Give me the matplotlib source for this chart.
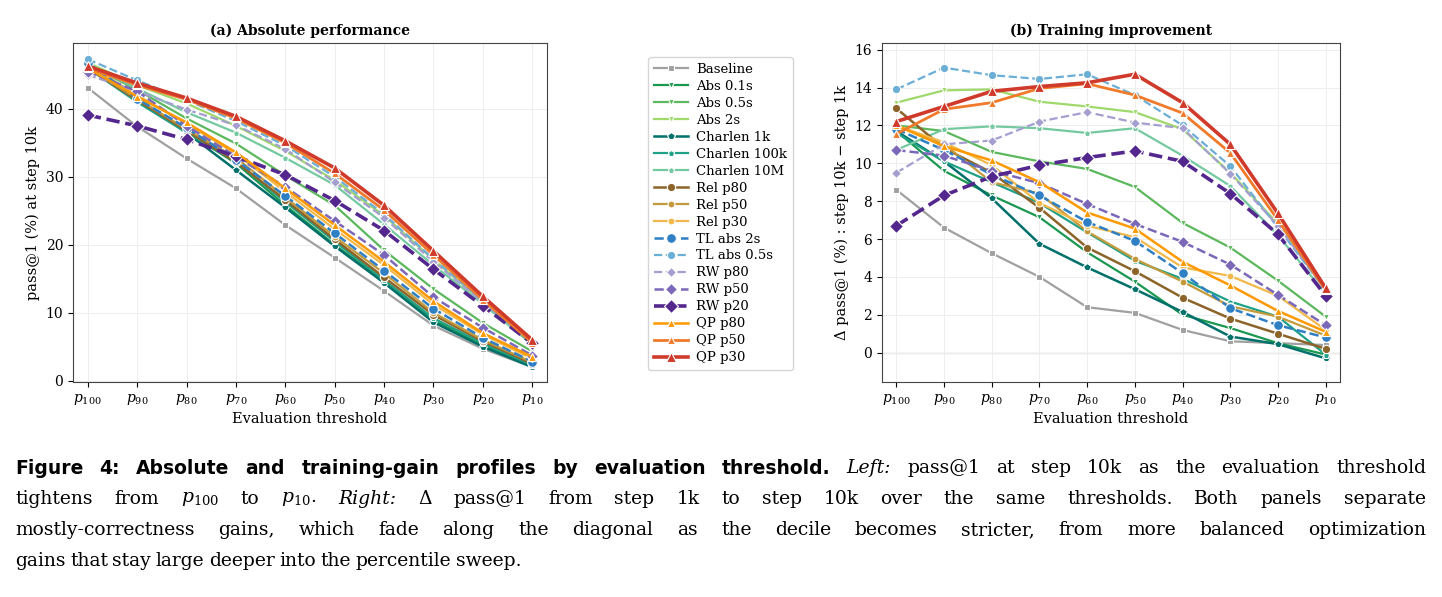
import numpy as np
import matplotlib
matplotlib.use("Agg")
import matplotlib.pyplot as plt

plt.rcParams['font.family'] = 'DejaVu Serif'
plt.rcParams['mathtext.fontset'] = 'dejavuserif'

thresholds = [r'$p_{100}$', r'$p_{90}$', r'$p_{80}$', r'$p_{70}$', r'$p_{60}$',
              r'$p_{50}$', r'$p_{40}$', r'$p_{30}$', r'$p_{20}$', r'$p_{10}$']

names = ['Baseline', 'Abs 0.1s', 'Abs 0.5s', 'Abs 2s', 'Charlen 1k', 'Charlen 100k',
         'Charlen 10M', 'Rel p80', 'Rel p50', 'Rel p30', 'TL abs 2s', 'TL abs 0.5s',
         'RW p80', 'RW p50', 'RW p20', 'QP p80', 'QP p50', 'QP p30']

# pass@1 at step 10k
absolute = {
    'Baseline':     [43.1, 37.4, 32.7, 28.3, 22.9, 18.1, 13.2, 8.1, 4.7, 2.0],
    'Abs 0.1s':     [46.0, 41.3, 36.6, 32.0, 25.8, 20.0, 14.6, 8.9, 5.2, 2.1],
    'Abs 0.5s':     [46.5, 42.8, 38.6, 34.9, 30.2, 25.8, 19.2, 13.5, 8.5, 4.3],
    'Abs 2s':       [46.8, 43.5, 40.8, 37.5, 33.8, 29.5, 24.3, 17.8, 11.6, 5.5],
    'Charlen 1k':   [46.0, 41.5, 36.5, 31.0, 25.5, 19.8, 14.4, 8.6, 5.0, 2.0],
    'Charlen 100k': [46.0, 41.0, 36.5, 32.2, 26.3, 20.5, 14.8, 9.2, 5.5, 2.3],
    'Charlen 10M':  [46.5, 43.0, 39.5, 36.5, 32.8, 28.8, 23.0, 17.0, 11.3, 5.3],
    'Rel p80':      [46.0, 41.3, 36.8, 32.2, 26.6, 20.8, 15.2, 9.7, 5.8, 2.5],
    'Rel p50':      [46.0, 41.5, 37.0, 32.8, 27.0, 21.2, 15.8, 10.0, 6.0, 2.7],
    'Rel p30':      [46.5, 42.0, 37.8, 33.4, 27.8, 22.3, 17.0, 11.2, 6.8, 3.2],
    'TL abs 2s':    [46.8, 41.5, 37.2, 32.5, 27.2, 21.7, 16.2, 10.6, 6.3, 2.8],
    'TL abs 0.5s':  [47.3, 44.2, 41.3, 38.2, 34.6, 30.0, 24.5, 17.9, 11.8, 5.5],
    'RW p80':       [45.0, 42.6, 39.9, 37.6, 34.1, 29.2, 24.0, 17.5, 11.6, 5.6],
    'RW p50':       [45.5, 42.6, 37.5, 33.0, 28.5, 23.5, 18.5, 12.3, 7.8, 3.7],
    'RW p20':       [39.1, 37.5, 35.5, 33.0, 30.3, 26.5, 22.1, 16.4, 11.0, 5.5],
    'QP p80':       [46.0, 41.8, 38.0, 33.6, 28.3, 22.9, 17.5, 11.7, 7.0, 3.5],
    'QP p50':       [46.0, 43.5, 41.4, 38.6, 35.0, 30.5, 25.1, 18.5, 11.9, 5.6],
    'QP p30':       [46.3, 43.8, 41.6, 38.9, 35.3, 31.3, 25.8, 19.1, 12.4, 6.0],
}

# delta pass@1 step 10k - step 1k
delta = {
    'Baseline':     [8.6, 6.6, 5.25, 4.0, 2.4, 2.1, 1.2, 0.6, 0.5, 0.4],
    'Abs 0.1s':     [11.7, 9.6, 8.3, 7.15, 5.3, 3.75, 2.0, 1.3, 0.5, -0.1],
    'Abs 0.5s':     [12.0, 11.7, 10.6, 10.1, 9.7, 8.75, 6.85, 5.55, 3.8, 1.9],
    'Abs 2s':       [13.2, 13.85, 13.9, 13.25, 13.0, 12.7, 11.8, 9.5, 6.8, 3.3],
    'Charlen 1k':   [11.7, 10.1, 8.15, 5.75, 4.5, 3.35, 2.15, 0.85, 0.45, -0.3],
    'Charlen 100k': [11.6, 10.1, 9.0, 7.9, 6.35, 4.85, 3.9, 2.7, 1.9, -0.1],
    'Charlen 10M':  [10.7, 11.8, 11.95, 11.85, 11.6, 11.85, 10.4, 8.8, 6.2, 3.1],
    'Rel p80':      [12.9, 10.8, 9.5, 7.65, 5.55, 4.3, 2.9, 1.8, 1.0, 0.2],
    'Rel p50':      [12.0, 11.0, 9.0, 8.4, 6.4, 4.95, 3.75, 2.45, 1.9, 0.9],
    'Rel p30':      [12.0, 11.1, 9.9, 7.9, 6.7, 6.1, 4.5, 4.05, 3.0, 1.2],
    'TL abs 2s':    [11.8, 10.7, 9.4, 8.3, 6.9, 5.9, 4.2, 2.35, 1.45, 0.8],
    'TL abs 0.5s':  [13.9, 15.05, 14.65, 14.45, 14.7, 13.6, 12.0, 9.85, 6.6, 3.3],
    'RW p80':       [9.5, 11.0, 11.2, 12.2, 12.7, 12.15, 11.85, 9.45, 6.7, 3.3],
    'RW p50':       [10.7, 10.4, 9.6, 8.95, 7.85, 6.8, 5.85, 4.65, 3.05, 1.45],
    'RW p20':       [6.7, 8.3, 9.3, 9.9, 10.3, 10.65, 10.1, 8.4, 6.25, 3.0],
    'QP p80':       [12.0, 10.9, 10.15, 9.0, 7.4, 6.55, 4.8, 3.55, 2.2, 1.1],
    'QP p50':       [11.55, 12.85, 13.2, 13.95, 14.2, 13.6, 12.65, 10.55, 7.0, 3.3],
    'QP p30':       [12.2, 13.0, 13.8, 14.05, 14.25, 14.7, 13.2, 11.0, 7.35, 3.4],
}

# colour, marker, linestyle, linewidth, markersize
styles = {
    'Baseline':     ('#a0a0a0', 's', '-', 1.6, 5),
    'Abs 0.1s':     ('#1a9850', 'v', '-', 1.6, 5),
    'Abs 0.5s':     ('#5cb85c', 'v', '-', 1.6, 5),
    'Abs 2s':       ('#9fd86b', 'v', '-', 1.6, 5),
    'Charlen 1k':   ('#00706b', 'p', '-', 1.8, 6),
    'Charlen 100k': ('#1fa187', 'p', '-', 1.6, 5),
    'Charlen 10M':  ('#74c9a0', 'p', '-', 1.6, 5),
    'Rel p80':      ('#8c6429', 'o', '-', 1.8, 6),
    'Rel p50':      ('#c49a3c', 'o', '-', 1.6, 5),
    'Rel p30':      ('#f2b84b', 'o', '-', 1.6, 5),
    'TL abs 2s':    ('#2e7fc4', 'o', '--', 1.8, 7),
    'TL abs 0.5s':  ('#6baed6', 'o', '--', 1.6, 6),
    'RW p80':       ('#a49fd0', 'D', '--', 1.6, 5),
    'RW p50':       ('#7b68b8', 'D', '--', 1.8, 6),
    'RW p20':       ('#54278f', 'D', '--', 2.6, 7),
    'QP p80':       ('#ff9900', '^', '-', 1.8, 6),
    'QP p50':       ('#f07a2a', '^', '-', 2.0, 6),
    'QP p30':       ('#d03a2a', '^', '-', 2.6, 7),
}

fig = plt.figure(figsize=(14.42, 5.97), dpi=100)
W, H = 1442, 597
ax1 = fig.add_axes([73 / W, 1 - 382 / H, (547 - 73) / W, (382 - 43) / H])
ax2 = fig.add_axes([882 / W, 1 - 382 / H, (1340 - 882) / W, (382 - 43) / H])

x = np.arange(len(thresholds))
for ax, data in ((ax1, absolute), (ax2, delta)):
    for n in names:
        c, m, ls, lw, ms = styles[n]
        ax.plot(x, data[n], color=c, marker=m, linestyle=ls, linewidth=lw,
                markersize=ms, markeredgecolor='white', markeredgewidth=0.8, label=n)
    ax.set_xticks(x)
    ax.set_xticklabels(thresholds, fontsize=11)
    ax.set_xlim(-0.3, 9.3)
    ax.set_xlabel('Evaluation threshold', fontsize=10.5)
    ax.grid(True, color='#eeeeee', linewidth=0.7)
    ax.tick_params(labelsize=10)
    for s in ax.spines.values():
        s.set_color('#444444')

ax1.set_ylim(-0.2, 49.7)
ax1.set_yticks([0, 10, 20, 30, 40])
ax1.set_ylabel('pass@1 (%) at step 10k', fontsize=10.5)
ax1.set_title('(a) Absolute performance', fontsize=10, fontweight='bold')

ax2.axhline(0, color='#cccccc', linewidth=1, zorder=0)
ax2.set_ylim(-1.55, 16.35)
ax2.set_yticks([0, 2, 4, 6, 8, 10, 12, 14, 16])
ax2.set_ylabel('Δ pass@1 (%) : step 10k − step 1k', fontsize=10.5)
ax2.set_title('(b) Training improvement', fontsize=10, fontweight='bold')

handles, labels = ax1.get_legend_handles_labels()
fig.legend(handles, labels, loc='upper left', bbox_to_anchor=(648 / W, 1 - 57 / H),
           fontsize=9.5, frameon=True, edgecolor='#cccccc', handlelength=2.6,
           labelspacing=0.3, borderpad=0.45, borderaxespad=0, handletextpad=0.6)

# caption, justified word by word
serif = dict(family='DejaVu Serif', fontsize=13.5)
bold = dict(family='DejaVu Sans', fontsize=13.5, fontweight='bold')
ital = dict(serif, style='italic')
lines = [
    [("Figure 4: Absolute and training-gain profiles by evaluation threshold.", bold),
     ("Left:", ital),
     ("pass@1 at step 10k as the evaluation threshold", serif)],
    [(r"tightens from $p_{100}$ to $p_{10}$.", serif),
     ("Right:", ital),
     ("Δ pass@1 from step 1k to step 10k over the same thresholds. Both panels separate", serif)],
    [("mostly-correctness gains, which fade along the diagonal as the decile becomes stricter, "
      "from more balanced optimization", serif)],
    [("gains that stay large deeper into the percentile sweep.", serif)],
]
renderer = fig.canvas.get_renderer()
x0, x1 = 15, 1426
for i, segs in enumerate(lines):
    ypos = 1 - (468 + i * 31) / H
    words = []
    for txt, kw in segs:
        for w in txt.split(' '):
            words.append((w, kw))
    arts = [fig.text(0, ypos, w, va='center', ha='left', **kw) for w, kw in words]
    widths = [a.get_window_extent(renderer).width for a in arts]
    if i < len(lines) - 1:
        gap = (x1 - x0 - sum(widths)) / (len(words) - 1)
    else:
        gap = 4.5
    xpos = x0
    for a, wd in zip(arts, widths):
        a.set_x(xpos / W)
        xpos += wd + gap

fig.savefig('out.png', dpi=100)
